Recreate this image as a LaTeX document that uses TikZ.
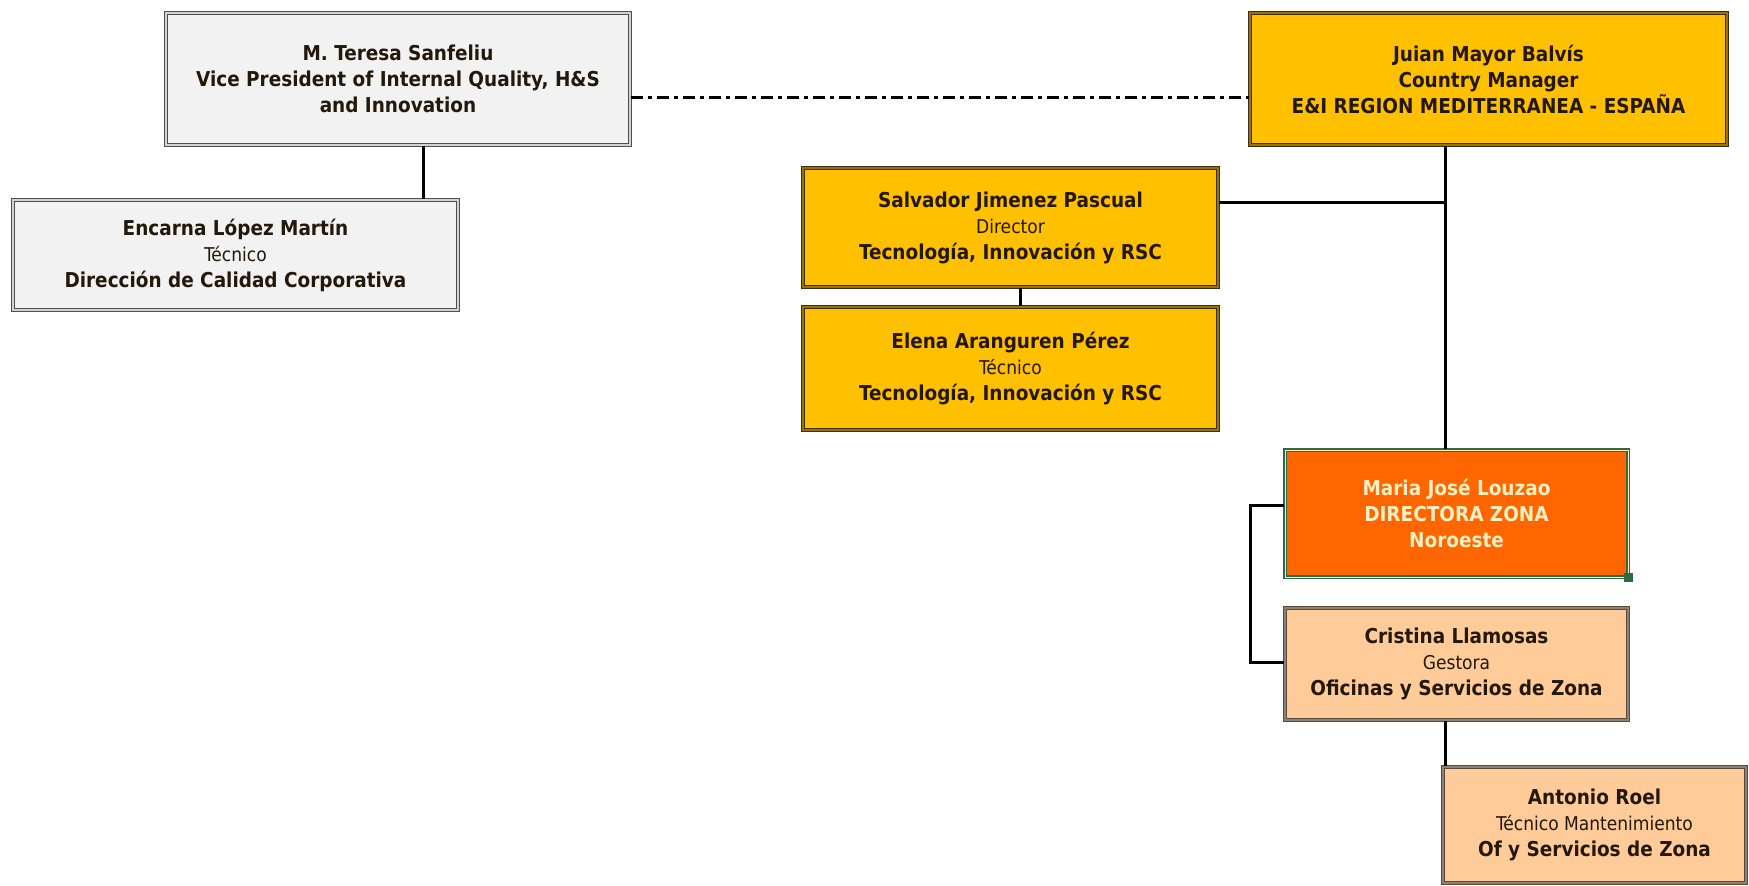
\documentclass[tikz,border=0pt]{standalone}
\usepackage{fontspec}
\setmainfont{DejaVu Sans Condensed}
\definecolor{txt}{HTML}{24180A}
\definecolor{gfill}{HTML}{F2F2F2}
\definecolor{gline}{HTML}{505050}
\definecolor{yfill}{HTML}{FFC000}
\definecolor{yline}{HTML}{3C2E18}
\definecolor{ofill}{HTML}{FF6600}
\definecolor{mgreen}{HTML}{2E6B45}
\definecolor{otext}{HTML}{FFF0C4}
\definecolor{pfill}{HTML}{FFCC99}
\definecolor{pline}{HTML}{5C4A38}
\newcommand{\subfont}{\mdseries\fontsize{19}{26}\selectfont}
\begin{document}
\begin{tikzpicture}[x=1pt,y=-1pt,
  card/.style={rectangle, inner sep=0pt, align=center, text=txt,
    font=\bfseries\fontsize{20.5}{26}\selectfont, line width=1.4pt, double distance=1.5pt},
  graybox/.style={card, fill=gfill, draw=gline, double=gray!35},
  yelbox/.style={card, fill=yfill, draw=yline, double=yfill!60!black},
  orabox/.style={card, fill=ofill, draw=mgreen, double=otext, double distance=0.8pt, line width=1.7pt, text=otext},
  pchbox/.style={card, fill=pfill, draw=pline, double=pline!70, line width=1.5pt},
  conn/.style={line width=3pt, black},
  dotline/.style={line width=3pt, black, dash pattern=on 12pt off 5pt on 4pt off 5pt}
]
\useasboundingbox (0,0) rectangle (1749,886);

\node[graybox, minimum width=464pt, minimum height=132pt] (T) at (398,79)
  {M. Teresa Sanfeliu\\ Vice President of Internal Quality, H\&S\\ and Innovation};
\node[graybox, minimum width=445pt, minimum height=110pt] (E) at (235.5,255)
  {Encarna López Martín\\ {\subfont Técnico}\\ Dirección de Calidad Corporativa};
\node[yelbox, minimum width=477pt, minimum height=132pt] (J) at (1488.5,79)
  {Juian Mayor Balvís\\ Country Manager\\ E\&I REGION MEDITERRANEA - ESPAÑA};
\node[yelbox, minimum width=415pt, minimum height=119pt] (S) at (1010.5,227.5)
  {Salvador Jimenez Pascual\\ {\subfont Director}\\ Tecnología, Innovación y RSC};
\node[yelbox, minimum width=415pt, minimum height=123pt] (L) at (1010.5,368.5)
  {Elena Aranguren Pérez\\ {\subfont Técnico}\\ Tecnología, Innovación y RSC};
\node[orabox, minimum width=343pt, minimum height=127pt] (M) at (1456.5,513.5)
  {Maria José Louzao\\ DIRECTORA ZONA\\ Noroeste};
\node[pchbox, minimum width=343pt, minimum height=112pt] (C) at (1456.5,664)
  {Cristina Llamosas\\ {\subfont Gestora}\\ Oficinas y Servicios de Zona};
\node[pchbox, minimum width=303pt, minimum height=116pt] (A) at (1594.5,825)
  {Antonio Roel\\ {\subfont Técnico Mantenimiento}\\ Of y Servicios de Zona};

% selection handle on Maria
\fill[mgreen] ([shift={(-4.5,-4.5)}]M.south east) rectangle ++(9,9);

% connectors
\coordinate (bx) at (1250,0);
\draw[conn] (T.south -| 423,0) -- (E.north -| 423,0);
\draw[dotline] (T.east |- 0,97) -- (J.west |- 0,97);
\draw[conn] (J.south -| 1445,0) -- (M.north -| 1445,0);
\draw[conn] (S.east |- 0,202) -- (1445,202);
\draw[conn] (S.south -| 1020,0) -- (L.north -| 1020,0);
\draw[conn] (M.west |- 0,505) -| (bx |- 0,662) -- (C.west |- 0,662);
\draw[conn] (C.south -| 1445,0) -- (A.north -| 1445,0);
\end{tikzpicture}
\end{document}
